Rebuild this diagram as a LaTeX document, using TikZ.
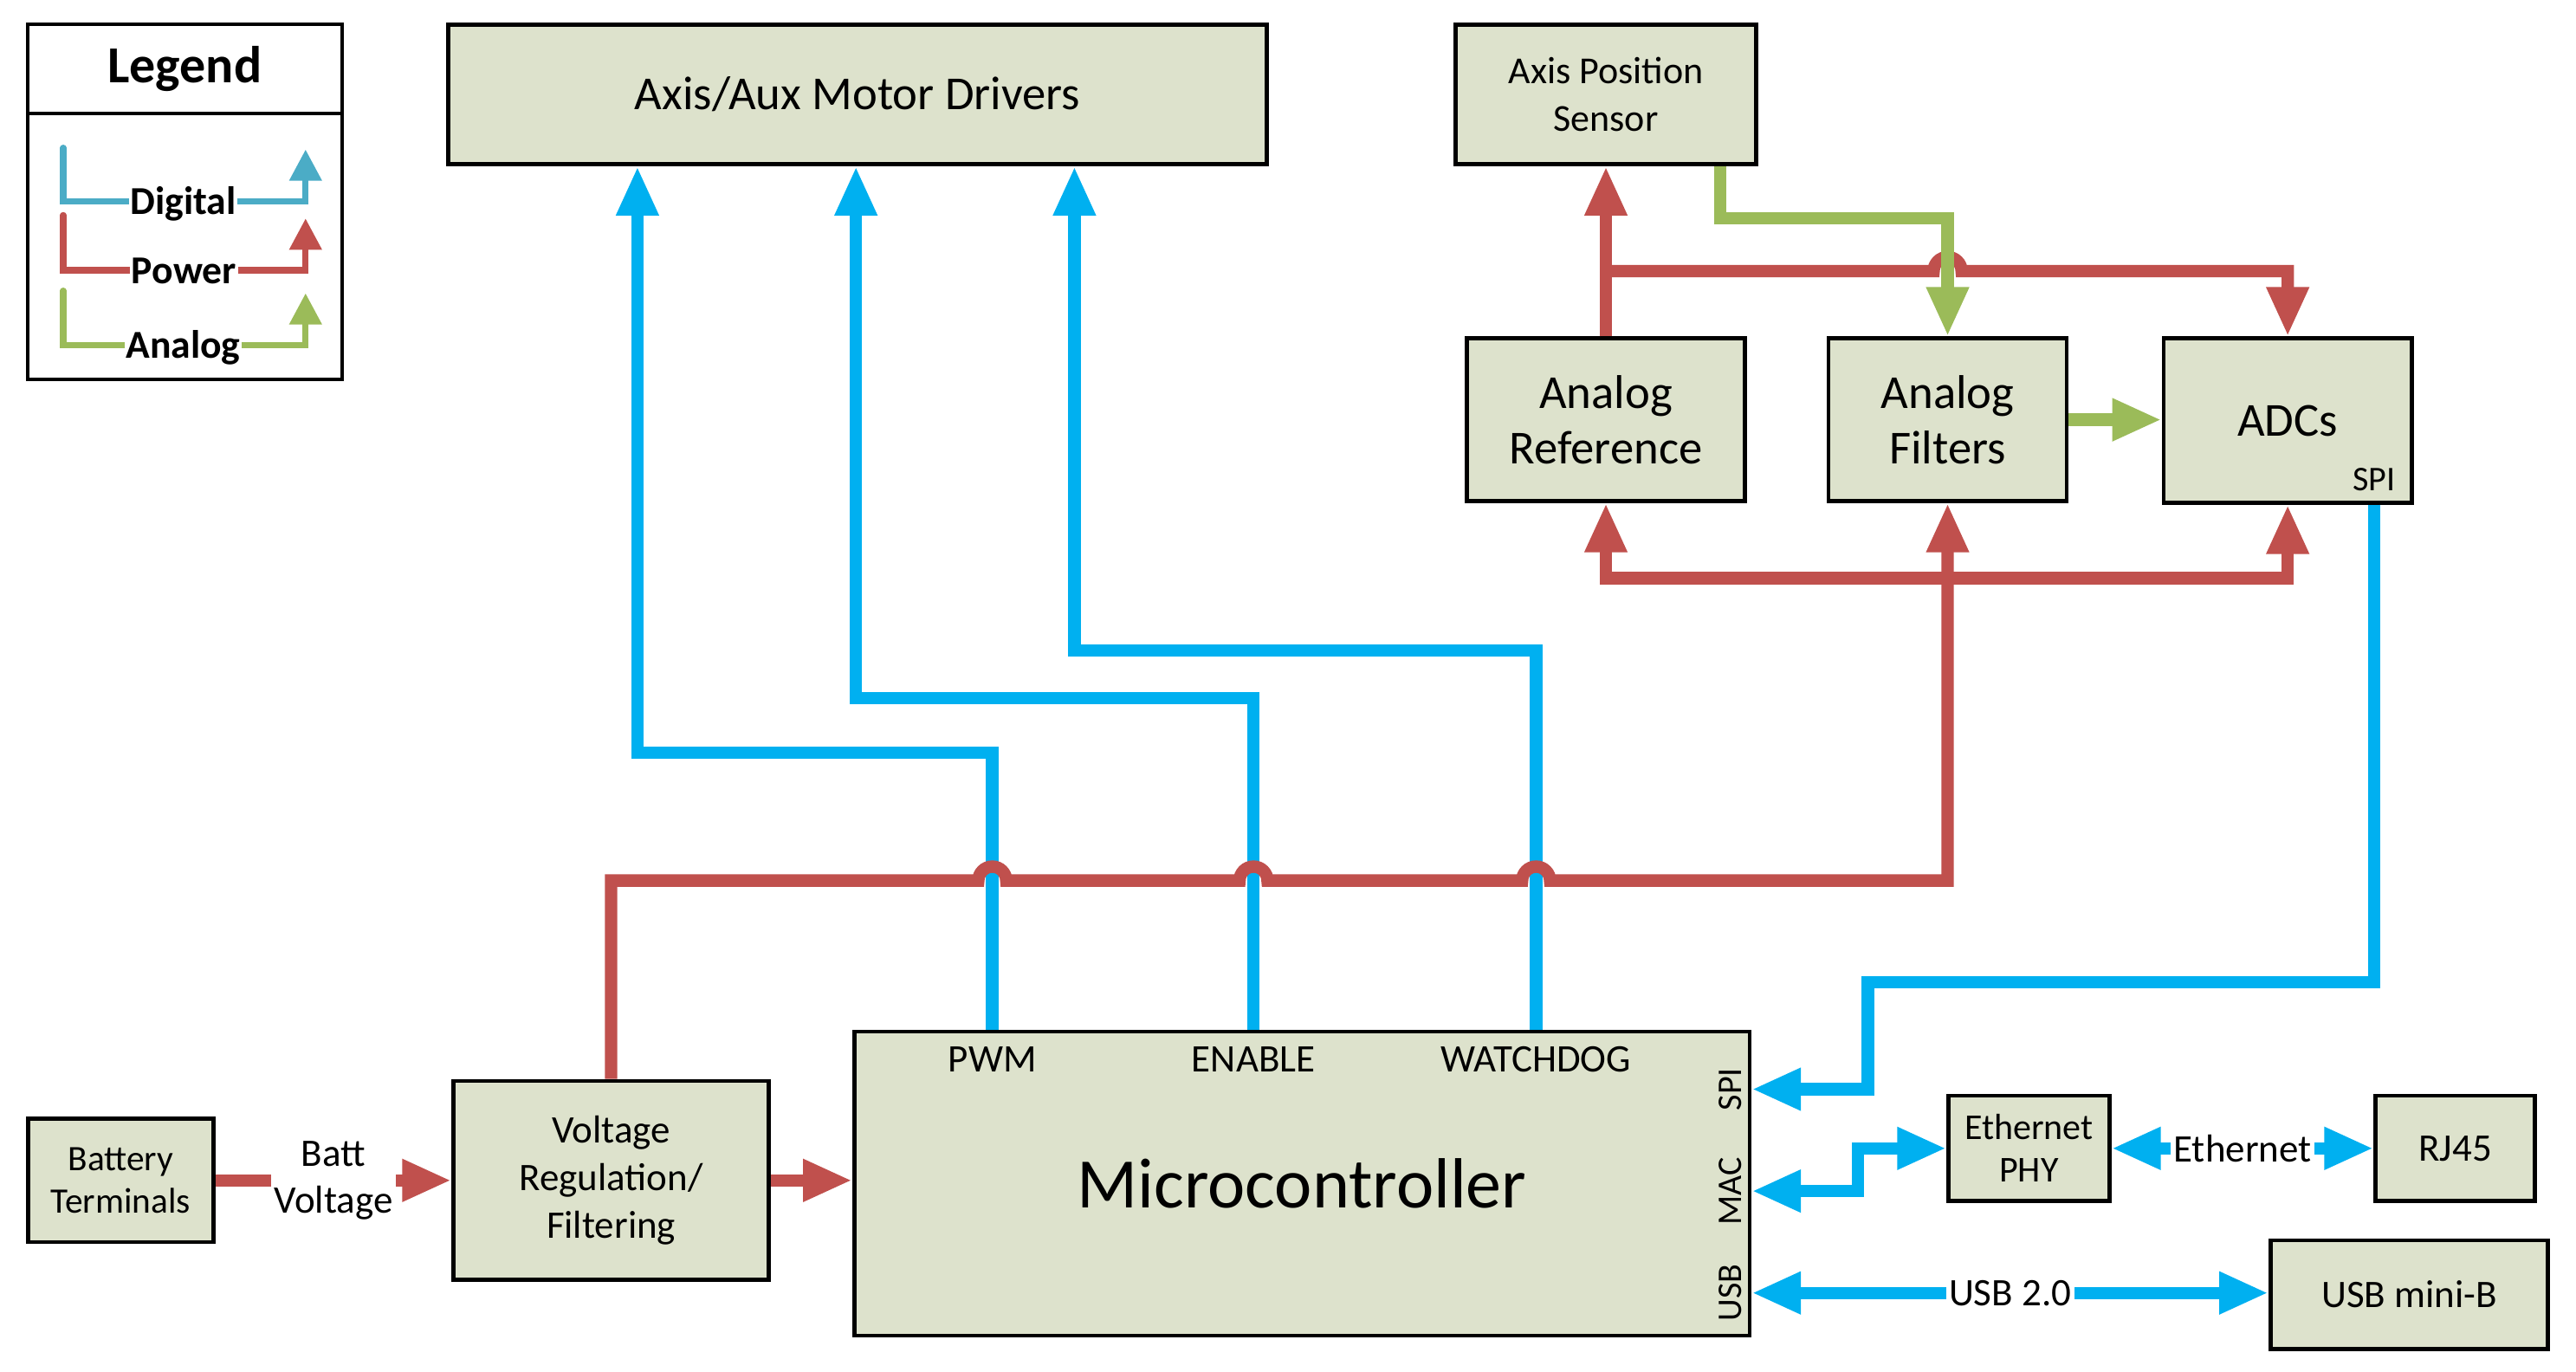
\documentclass[tikz,border=0pt]{standalone}
\usepackage{fontspec}
\setmainfont{Carlito}
\usepackage{tikz}
\usetikzlibrary{arrows.meta,calc}
\definecolor{boxfill}{RGB}{221,226,204}
\definecolor{digblue}{RGB}{0,176,240}
\definecolor{powred}{RGB}{192,80,77}
\definecolor{anagreen}{RGB}{155,187,89}
\definecolor{legblue}{RGB}{75,172,198}

\begin{document}
\begin{tikzpicture}[
	blk/.style={rectangle, draw, line width=1.4pt, fill=boxfill, align=center, inner sep=0pt},
	bigtxt/.style={font=\fontsize{16.4}{19}\selectfont},
	smalltxt/.style={font=\fontsize{13.5}{16.4}\selectfont},
	dig/.style={draw=digblue, line width=4.3pt, >={Triangle[length=6mm,width=4.8mm]}},
	pow/.style={draw=powred, line width=4.3pt, >={Triangle[length=6mm,width=4.8mm]}},
	ana/.style={draw=anagreen, line width=4.3pt, >={Triangle[length=6mm,width=4.8mm]}},
	lbl/.style={fill=white, inner sep=1pt, align=center, font=\fontsize{13.5}{16.4}\selectfont},
	leg/.style={line width=2.2pt, line cap=round, >={Triangle[length=3.8mm,width=3.8mm]}},
	legtxt/.style={fill=white, inner sep=0.5pt, anchor=base, font=\bfseries\fontsize{13.7}{16}\selectfont}
]

\useasboundingbox (0,-0.08) rectangle (31.36,16.62);

% legend
\node[rectangle, draw, line width=1.2pt, minimum width=3.82cm, minimum height=1.08cm, font=\bfseries\fontsize{18}{20}\selectfont] (legtitle) at (2.25,15.78) {Legend};
\node[rectangle, draw, line width=1.2pt, minimum width=3.82cm, minimum height=3.24cm] (legbody) at (2.25,13.62) {};
	\coordinate (ldig1) at (0.77,14.82);
	\coordinate (ldig2) at (3.72,14.17);
	\coordinate (ldig3) at (3.72,14.80);
	\coordinate (lpow1) at (0.77,14.00);
	\coordinate (lpow2) at (3.72,13.33);
	\coordinate (lpow3) at (3.72,13.96);
	\coordinate (lana1) at (0.77,13.08);
	\coordinate (lana2) at (3.72,12.42);
	\coordinate (lana3) at (3.72,13.05);
\draw[leg, legblue, ->] (ldig1) |- (ldig2) -- (ldig3);
\draw[leg, powred, ->] (lpow1) |- (lpow2) -- (lpow3);
\draw[leg, anagreen, ->] (lana1) |- (lana2) -- (lana3);
	\node[legtxt] (ldigtxt) at (2.23,14.01) {Digital};
	\node[legtxt] (lpowtxt) at (2.24,13.17) {Power};
	\node[legtxt] (lanatxt) at (2.23,12.26) {Analog};

% blocks
\node[blk, bigtxt, minimum width=9.96cm, minimum height=1.7cm] (drivers) at (10.44,15.47) {Axis/Aux Motor Drivers};
\node[blk, font=\fontsize{13.2}{16.4}\selectfont, minimum width=3.66cm, minimum height=1.7cm] (sensor) at (19.55,15.47) {Axis Position\\Sensor};
\node[blk, bigtxt, minimum width=3.38cm, minimum height=1.98cm] (aref) at (19.55,11.51) {Analog\\Reference};
\node[blk, bigtxt, minimum width=2.9cm, minimum height=1.98cm] (afilt) at (23.71,11.51) {Analog\\Filters};
\node[blk, bigtxt, minimum width=3.02cm, minimum height=2cm] (adc) at (27.85,11.5) {ADCs};
	\node[font=\fontsize{12}{14}\selectfont] (adcspi) at (28.9,10.78) {SPI};
\node[blk, font=\fontsize{24.6}{28}\selectfont, minimum width=10.9cm, minimum height=3.7cm] (mcu) at (15.85,2.21) {Microcontroller};
	\node[smalltxt] (pwm) at (12.08,3.72) {PWM};
	\node[smalltxt] (en) at (15.26,3.72) {ENABLE};
	\node[smalltxt] (wd) at (18.7,3.72) {WATCHDOG};
	\node[rotate=90, font=\fontsize{12}{14}\selectfont] (mspi) at (21.06,3.36) {SPI};
	\node[rotate=90, font=\fontsize{12}{14}\selectfont] (mmac) at (21.06,2.12) {MAC};
	\node[rotate=90, font=\fontsize{12}{14}\selectfont] (musb) at (21.06,0.88) {USB};
\node[blk, font=\fontsize{12.4}{14.7}\selectfont, minimum width=2.26cm, minimum height=1.5cm] (batt) at (1.47,2.25) {Battery\\Terminals};
\node[blk, smalltxt, minimum width=3.84cm, minimum height=2.42cm] (vreg) at (7.44,2.25) {Voltage\\Regulation/\\Filtering};
\node[blk, font=\fontsize{12.6}{14.7}\selectfont, minimum width=1.96cm, minimum height=1.28cm] (phy) at (24.7,2.64) {Ethernet\\PHY};
\node[blk, smalltxt, minimum width=1.94cm, minimum height=1.28cm] (rj45) at (29.89,2.64) {RJ45};
\node[blk, smalltxt, minimum width=3.38cm, minimum height=1.32cm] (usbb) at (29.33,0.86) {USB mini-B};

% digital
\coordinate (bpwm) at (7.76,7.46);
\coordinate (ben) at (10.42,8.12);
\coordinate (bwd) at (13.08,8.70);
\coordinate (sbend) at (22.74,4.66);
\coordinate (mbend) at (22.62,2.64);
\draw[dig,->] (pwm |- mcu.north) |- (bpwm) -- (bpwm |- drivers.south);
\draw[dig,->] (en |- mcu.north) |- (ben) -- (ben |- drivers.south);
\draw[dig,->] (wd |- mcu.north) |- (bwd) -- (bwd |- drivers.south);
\draw[dig,->] (adcspi |- adc.south) |- (sbend) |- (mspi -| mcu.east);
\draw[dig,<->] (mmac -| mcu.east) -| (mbend) -- (phy.west);
\draw[dig,<->] (phy.east) -- node[lbl] (ethtxt) {Ethernet} (rj45.west);
\draw[dig,<->] (musb -| mcu.east) -- node[lbl] (usbtxt) {USB 2.0} (musb -| usbb.west);

% power
\coordinate (pbus) at (7.44,5.90);
\coordinate (rlow) at (23.71,9.58);
\coordinate (rtop) at (19.55,13.32);
\draw[pow,->] (batt.east) -- node[lbl] (batttxt) {Batt\\Voltage} (batt.east -| vreg.west);
\draw[pow,->] (vreg.east) -- (vreg.east -| mcu.west);
\draw[pow,->] (vreg.north) |- ($(pwm |- pbus)+(-1.7mm,0)$) arc[start angle=180, end angle=0, radius=1.7mm]
	-- ($(en |- pbus)+(-1.7mm,0)$) arc[start angle=180, end angle=0, radius=1.7mm]
	-- ($(wd |- pbus)+(-1.7mm,0)$) arc[start angle=180, end angle=0, radius=1.7mm]
	-- (afilt.south |- pbus) -- (afilt.south);
\draw[pow,<->] (aref.south) |- (rlow) -| (adc.south);
\draw[pow,->] (aref.north) -- (sensor.south);
\draw[pow,->] (rtop) -- ($(afilt.north |- rtop)+(-1.7mm,0)$) arc[start angle=180, end angle=0, radius=1.7mm] -| (adc.north);

% analog
\coordinate (gbend) at (20.94,13.96);
\draw[ana,->] (gbend |- sensor.south) -- (gbend) -| (afilt.north);
\draw[ana,->] (afilt.east) -- (afilt.east -| adc.west);

\end{tikzpicture}
\end{document}
